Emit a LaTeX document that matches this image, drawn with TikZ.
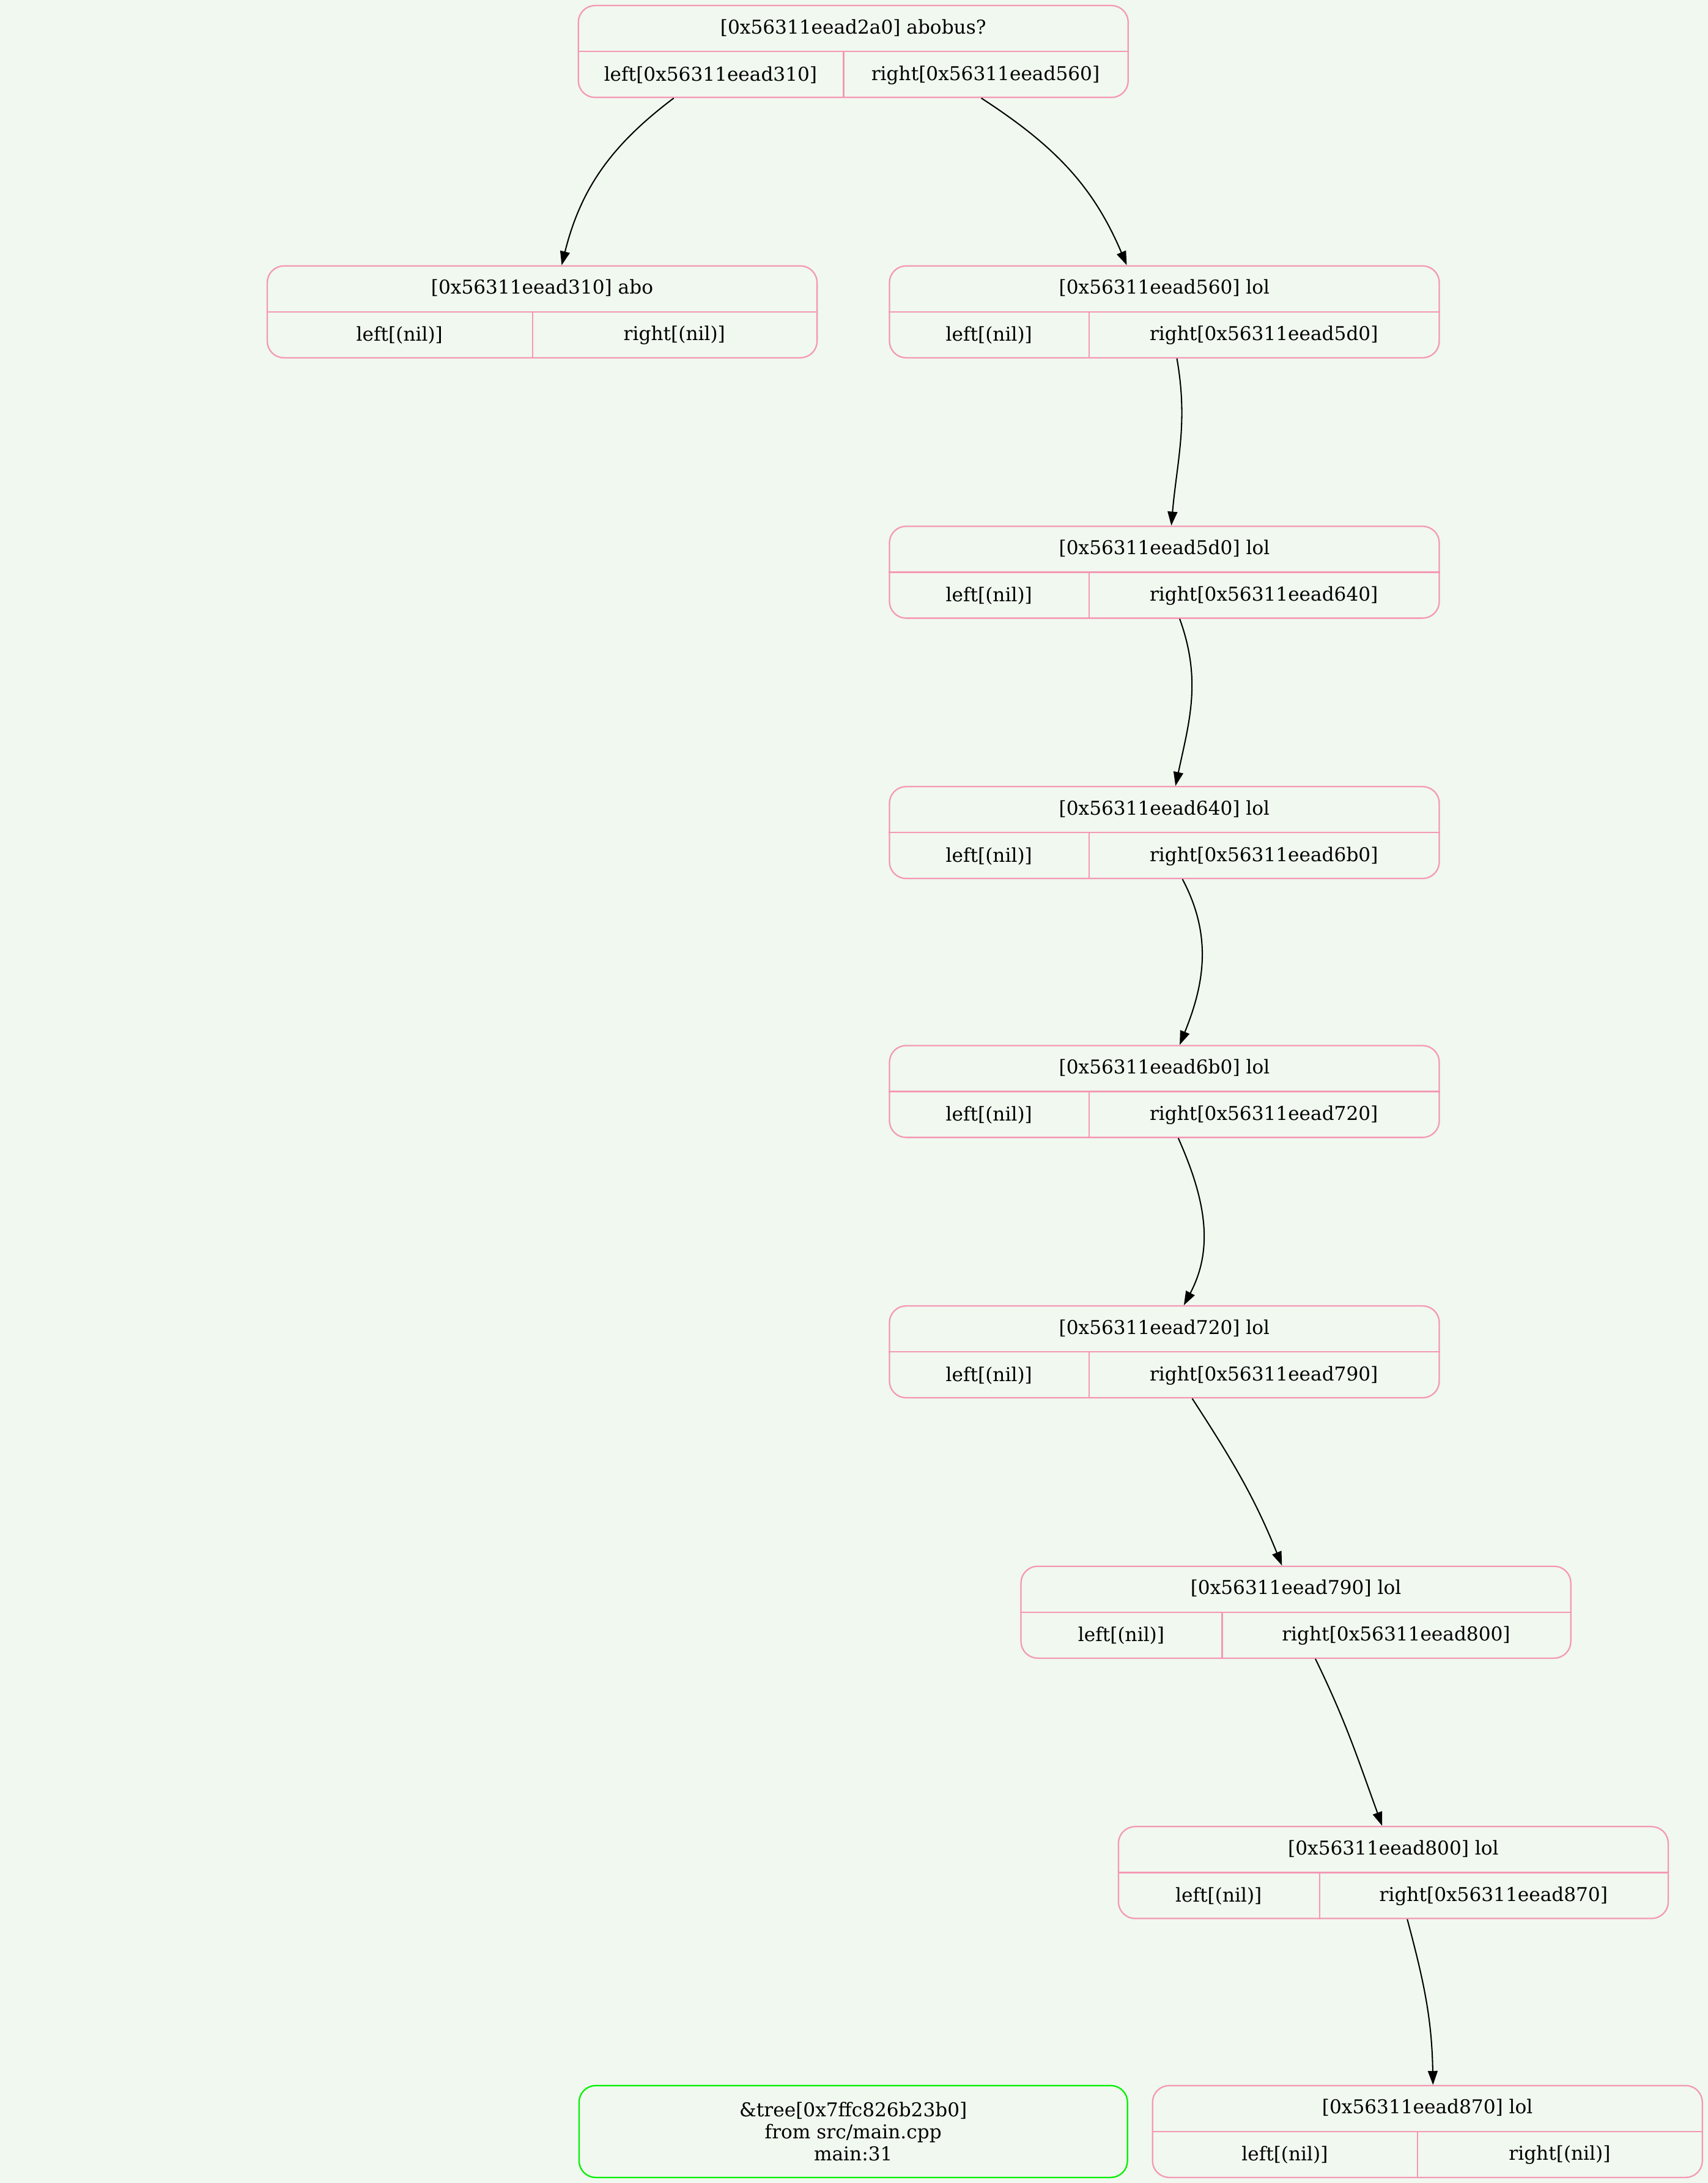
\documentclass[tikz,border=0pt]{standalone}
\usepackage{fontspec}
\setmainfont{DejaVu Serif}
\usepackage{xcolor}
\usepackage{tikz}
\usetikzlibrary{arrows.meta, positioning, calc}
\definecolor{canvasbg}{HTML}{F0F8EF}
\definecolor{recline}{HTML}{F598B5}
\definecolor{infoline}{HTML}{00F000}
% record node: name, centre, divider offset, head, left field, right field
\newcommand{\recnode}[6]{%
  \node[rec] (#1) at (#2) {};
  \draw[recsep] (#1.west) -- (#1.east);
  \draw[recsep] ([xshift=#3pt]#1.south west) -- ([xshift=#3pt]#1.west);
  \node[fld] (#1-head) at ($(#1.north)+(0,-16.5)$) {#4};
  \node[fld] (#1-left) at ($(#1.south west)+({#3/2},16.5)$) {#5};
  \node[fld] (#1-right) at ($(#1.south west)+({(#3+395)/2},16.5)$) {#6};
}

\begin{document}
\begin{tikzpicture}[x=1pt, y=1pt,
      font=\fontsize{13.7}{16}\selectfont,
      rec/.style={draw=recline, line width=1pt, rounded corners=12pt,
        minimum width=395pt, minimum height=66pt, inner sep=0pt},
      recsep/.style={draw=recline, line width=1pt},
      fld/.style={inner sep=0pt, anchor=center},
      info/.style={draw=infoline, line width=1pt, rounded corners=12pt,
        minimum width=394pt, minimum height=66pt, inner sep=0pt, align=center},
      edge/.style={-{Triangle[length=10pt, width=7pt]}, line width=0.9pt}]
    \fill[canvasbg] (0,0) rectangle (1227,-1568);
    \useasboundingbox (0,0) rectangle (1227,-1568);
    \recnode{root}{613,-37}{191}{[0x56311eead2a0] abobus?}{left[0x56311eead310]}{right[0x56311eead560]}
    \recnode{n310}{389.5,-224}{191}{[0x56311eead310] abo}{left[(nil)]}{right[(nil)]}
    \recnode{n560}{836.5,-224}{144}{[0x56311eead560] lol}{left[(nil)]}{right[0x56311eead5d0]}
    \recnode{n5d0}{836.5,-411}{144}{[0x56311eead5d0] lol}{left[(nil)]}{right[0x56311eead640]}
    \recnode{n640}{836.5,-598}{144}{[0x56311eead640] lol}{left[(nil)]}{right[0x56311eead6b0]}
    \recnode{n6b0}{836.5,-784}{144}{[0x56311eead6b0] lol}{left[(nil)]}{right[0x56311eead720]}
    \recnode{n720}{836.5,-971}{144}{[0x56311eead720] lol}{left[(nil)]}{right[0x56311eead790]}
    \recnode{n790}{931,-1158}{145}{[0x56311eead790] lol}{left[(nil)]}{right[0x56311eead800]}
    \recnode{n800}{1001,-1345}{145}{[0x56311eead800] lol}{left[(nil)]}{right[0x56311eead870]}
    \recnode{n870}{1025.5,-1531}{191}{[0x56311eead870] lol}{left[(nil)]}{right[(nil)]}
    \node[info] (tree) at (613,-1531) {\&tree[0x7ffc826b23b0]\\from src/main.cpp\\main:31};
    \draw[edge] ([xshift=69pt]root.south west) to[out=-143, in=76] ([xshift=212pt]n310.north west);
    \draw[edge] ([xshift=290pt]root.south west) to[out=-33, in=113] ([xshift=171pt]n560.north west);
    \draw[edge] ([xshift=207pt]n560.south west) to[out=-80, in=85] ([xshift=203pt]n5d0.north west);
    \draw[edge] ([xshift=209pt]n5d0.south west) to[out=-70, in=78] ([xshift=206pt]n640.north west);
    \draw[edge] ([xshift=211pt]n640.south west) to[out=-62, in=68] ([xshift=209pt]n6b0.north west);
    \draw[edge] ([xshift=208pt]n6b0.south west) to[out=-66, in=62] ([xshift=212pt]n720.north west);
    \draw[edge] ([xshift=218pt]n720.south west) to[out=-57, in=112] ([xshift=188pt]n790.north west);
    \draw[edge] ([xshift=212pt]n790.south west) to[out=-64, in=110] ([xshift=190pt]n800.north west);
    \draw[edge] ([xshift=208pt]n800.south west) to[out=-75, in=91] ([xshift=202pt]n870.north west);
  \end{tikzpicture}
\end{document}
